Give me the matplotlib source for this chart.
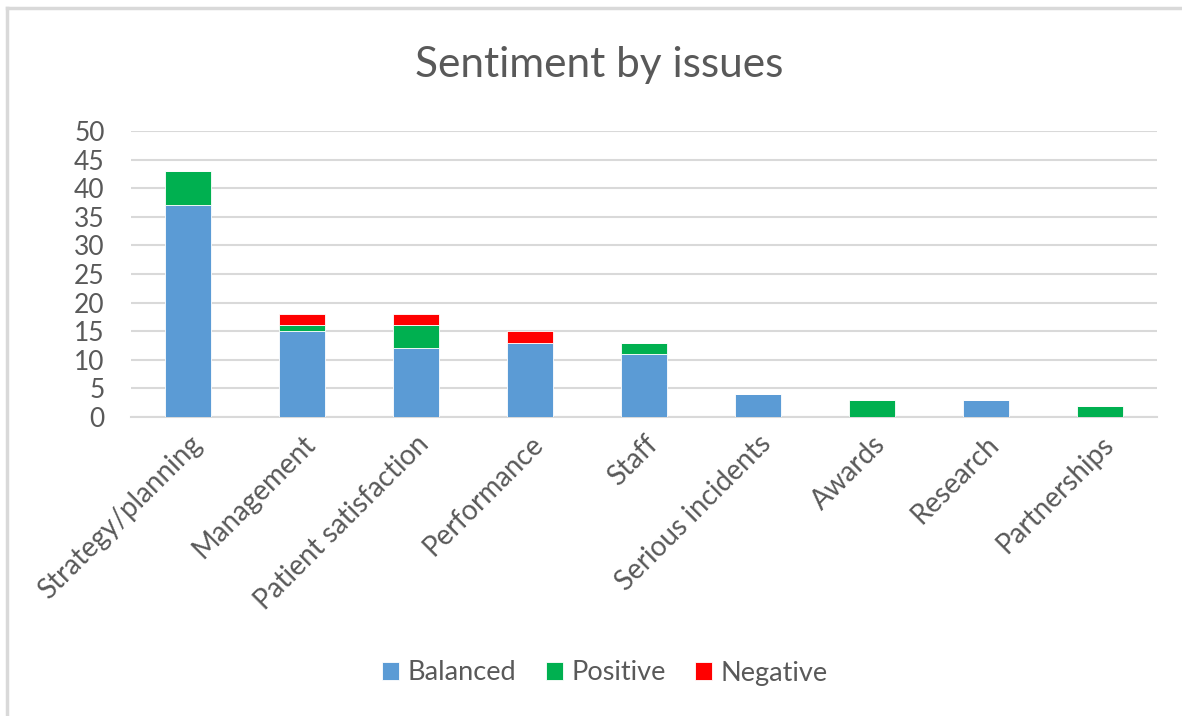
import matplotlib
matplotlib.use("Agg")
import matplotlib.pyplot as plt
from matplotlib.lines import Line2D
import numpy as np

categories = ["Strategy/planning", "Management", "Patient satisfaction", "Performance",
              "Staff", "Serious incidents", "Awards", "Research", "Partnerships"]
balanced = [37, 15, 12, 13, 11, 4, 0, 3, 0]
positive = [6, 1, 4, 0, 2, 0, 3, 0, 2]
negative = [0, 2, 2, 2, 0, 0, 0, 0, 0]
y_ticks = [0, 5, 10, 15, 20, 25, 30, 35, 40, 45, 50]

plt.rcParams['font.family'] = ['Lato', 'DejaVu Sans']
text_color = "#595959"

fig = plt.figure(figsize=(11.82, 7.16), dpi=100)
ax = fig.add_axes([131 / 1182, 1 - 417 / 716, (1157 - 131) / 1182, (417 - 131) / 716])

x = np.arange(len(categories))
w = 0.4
b = np.array(balanced)
p = np.array(positive)
n = np.array(negative)
ax.bar(x, b, w, color="#5B9BD5", edgecolor="white", linewidth=0.6, label="Balanced", zorder=3)
ax.bar(x, p, w, bottom=b, color="#00B050", edgecolor="white", linewidth=0.6, label="Positive", zorder=3)
ax.bar(x, n, w, bottom=b + p, color="#FF0000", edgecolor="white", linewidth=0.6, label="Negative", zorder=3)

ax.set_xlim(-0.5, len(categories) - 0.5)
ax.set_ylim(0, 50)
ax.set_yticks(y_ticks)
ax.set_yticklabels([str(t) for t in y_ticks], fontsize=19, color=text_color)
ax.set_xticks(x)
ax.set_xticklabels(categories, rotation=45, ha="right", rotation_mode="anchor",
                   fontsize=20, color=text_color)
ax.tick_params(axis="both", length=0)
ax.tick_params(axis="y", pad=19)
ax.tick_params(axis="x", pad=10)
ax.grid(axis="y", color="#d9d9d9", linewidth=1.5, zorder=0)
for s in ["top", "right", "left"]:
    ax.spines[s].set_visible(False)
ax.spines["bottom"].set_color("#d9d9d9")
ax.spines["bottom"].set_linewidth(1.5)

fig.text(599 / 1182, 1 - 65 / 716, "Sentiment by issues", ha="center", va="center",
         fontsize=30.5, color=text_color)

handles, labels = ax.get_legend_handles_labels()
fig.legend(handles, labels, loc="center", bbox_to_anchor=(605 / 1182, 1 - 673 / 716), ncol=3,
           frameon=False, fontsize=19.5, labelcolor=text_color, handlelength=0.63,
           handleheight=0.63, handletextpad=0.3, columnspacing=1.1)

# chart frame
fig.add_artist(Line2D([7 / 1182, 7 / 1182], [0, 1 - 8 / 716], transform=fig.transFigure,
                      color="#d9d9d9", linewidth=2.5))
fig.add_artist(Line2D([7 / 1182, 1], [1 - 8 / 716, 1 - 8 / 716], transform=fig.transFigure,
                      color="#d9d9d9", linewidth=2.5))

fig.savefig("out.png", dpi=100, facecolor="white")
